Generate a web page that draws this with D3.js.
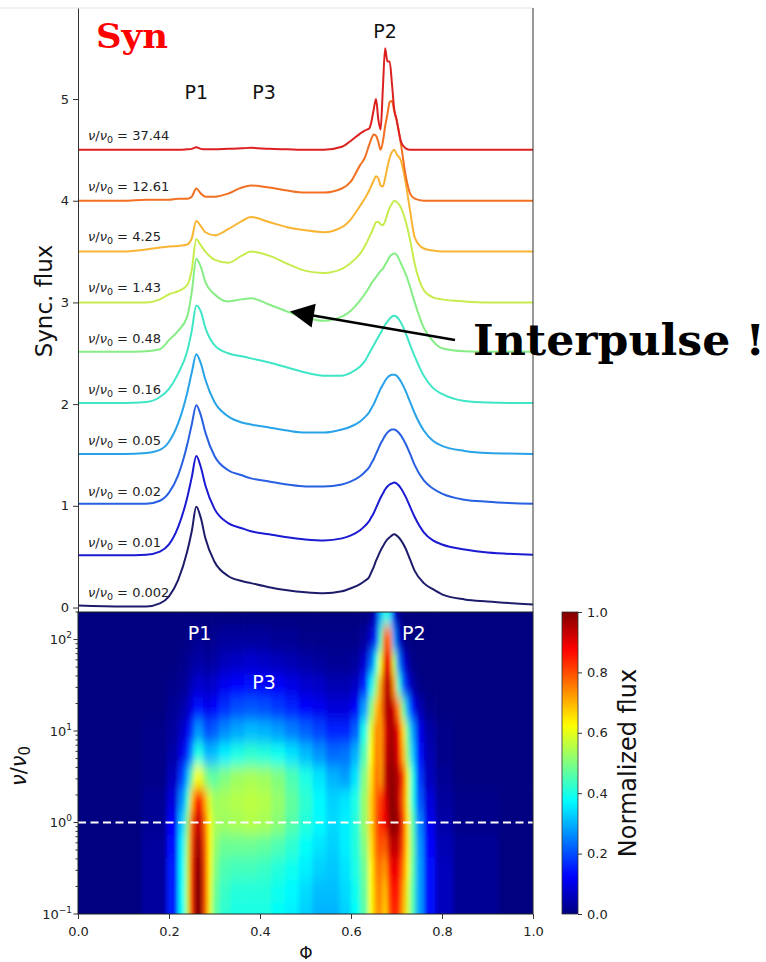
<!DOCTYPE html>
<html><head><meta charset="utf-8">
<script src="https://cdn.jsdelivr.net/npm/d3@7"></script>
<style>
body{margin:0;background:#fff}
svg{display:block}
text{font-family:"DejaVu Sans",sans-serif}
</style>
</head><body>
<svg id="chart" width="766" height="962"></svg>
<script>
// ---------- DATA ----------
const phase = [0,0.10,0.15,0.18,0.20,0.22,0.24,0.25,0.26,0.27,0.28,0.30,0.33,0.36,0.38,0.42,0.46,0.50,0.54,0.58,0.60,0.62,0.63,0.64,0.645,0.65,0.655,0.66,0.665,0.67,0.675,0.68,0.685,0.69,0.695,0.70,0.71,0.72,0.73,0.74,0.76,0.78,0.80,0.85,0.90,1.00];

const nuLabels = ["0.002","0.01","0.02","0.05","0.16","0.48","1.43","4.25","12.61","37.44"];
const curveOffsets = [0,0.5,1.0,1.5,2.0,2.5,3.0,3.5,4.0,4.5];
const lineColors = ["#1c1c6a","#1a1ad2","#2860e2","#28a2e8","#3ee6c6","#86ee84","#c6ec4e","#f8b432","#f27022","#dc2020"];

const flux0002 = [0.02,0.01,0.01,0.04,0.11,0.27,0.55,0.75,0.99,0.88, 0.68,0.45,0.31,0.26,0.24,0.20,0.17,0.15,0.14,0.16, 0.19,0.23,0.26,0.30,0.35,0.40,0.46,0.51,0.56,0.60, 0.64,0.67,0.69,0.71,0.72,0.71,0.66,0.58,0.47,0.36, 0.24,0.18,0.13,0.08,0.06,0.03];
const flux001 = [0.015,0.015,0.02,0.05,0.12,0.29,0.58,0.78,0.99,0.88, 0.70,0.47,0.33,0.28,0.25,0.22,0.19,0.17,0.16,0.18, 0.21,0.26,0.30,0.35,0.39,0.43,0.48,0.53,0.58,0.62, 0.66,0.69,0.71,0.72,0.73,0.72,0.67,0.59,0.49,0.39, 0.24,0.16,0.12,0.07,0.04,0.02];
const flux002 = [0.02,0.02,0.02,0.05,0.13,0.30,0.60,0.80,0.99,0.89, 0.72,0.49,0.35,0.30,0.27,0.24,0.21,0.19,0.19,0.21, 0.24,0.29,0.33,0.38,0.42,0.46,0.51,0.56,0.61,0.65, 0.69,0.72,0.74,0.75,0.75,0.74,0.69,0.61,0.51,0.40, 0.25,0.17,0.12,0.06,0.04,0.02];
const flux005 = [0.01,0.01,0.02,0.05,0.13,0.31,0.61,0.81,0.99,0.90, 0.74,0.52,0.38,0.32,0.30,0.27,0.24,0.22,0.22,0.25, 0.28,0.33,0.37,0.42,0.46,0.50,0.55,0.60,0.65,0.69, 0.73,0.76,0.78,0.79,0.79,0.78,0.72,0.63,0.52,0.41, 0.24,0.14,0.09,0.04,0.02,0.01];
const flux016 = [0.01,0.01,0.02,0.07,0.15,0.30,0.52,0.72,0.97,0.91, 0.75,0.58,0.50,0.47,0.45,0.41,0.36,0.31,0.28,0.28, 0.31,0.37,0.42,0.50,0.54,0.58,0.62,0.66,0.70,0.74, 0.78,0.81,0.84,0.86,0.87,0.86,0.80,0.70,0.58,0.47, 0.28,0.16,0.10,0.03,0.015,0.01];
const flux048 = [0.015,0.015,0.02,0.04,0.13,0.22,0.36,0.60,0.93,0.85, 0.70,0.58,0.51,0.53,0.54,0.48,0.41,0.35,0.32,0.36, 0.42,0.52,0.58,0.65,0.69,0.72,0.75,0.78,0.81,0.83, 0.87,0.91,0.95,0.97,0.98,0.97,0.88,0.78,0.65,0.50, 0.25,0.12,0.05,0.02,0.015,0.015];
const flux143 = [0,0,0,0.03,0.08,0.11,0.17,0.32,0.62,0.56, 0.50,0.42,0.39,0.46,0.50,0.46,0.38,0.31,0.29,0.33, 0.39,0.48,0.55,0.64,0.69,0.74,0.79,0.79,0.77,0.76, 0.80,0.87,0.93,0.97,1.0,0.99,0.93,0.80,0.61,0.38, 0.12,0.05,0.03,0.01,0,0];
const flux425 = [0,0,0.02,0.04,0.05,0.055,0.07,0.13,0.30,0.25, 0.19,0.16,0.22,0.30,0.34,0.29,0.24,0.21,0.19,0.24, 0.32,0.45,0.52,0.60,0.65,0.70,0.74,0.72,0.65,0.64, 0.72,0.83,0.92,0.98,1.0,0.96,0.89,0.68,0.40,0.14, 0.03,0.01,0,0,0,0];
const flux1261 = [0,0,0.01,0.01,0.01,0.02,0.02,0.04,0.12,0.07, 0.04,0.04,0.07,0.13,0.15,0.13,0.10,0.08,0.08,0.12, 0.19,0.35,0.42,0.55,0.61,0.65,0.64,0.58,0.50,0.58, 0.73,0.85,0.97,0.98,0.88,0.80,0.55,0.25,0.07,0.02, 0,0,0,0,0,0];
const flux3744 = [0,0,0,0,0,0,0.005,0.01,0.025,0.01, 0.005,0.005,0.01,0.015,0.02,0.01,0.005,0,0,0.03, 0.09,0.16,0.19,0.21,0.28,0.40,0.50,0.30,0.20,0.60, 1.0,0.87,0.87,0.65,0.40,0.30,0.08,0.015,0,0, 0,0,0,0,0,0];

const topYTicks = [0,1,2,3,4,5];
const phaseTicks = [0,0.2,0.4,0.6,0.8,1.0];
const nuMajorTicks = [0.1,1,10,100];
const nuTickExp = ["\u22121","0","1","2"];
const cbTicks = [0,0.2,0.4,0.6,0.8,1.0];

// heatmap grid (normalized flux), columns = phase, rows = log10(nu/nu0)
const hmPhase = [0,0.10,0.18,0.21,0.23,0.24,0.25,0.26,0.27,0.28, 0.29,0.30,0.32,0.35,0.38,0.41,0.44,0.47,0.50,0.53, 0.56,0.59,0.61,0.63,0.645,0.655,0.665,0.675,0.685,0.695, 0.705,0.715,0.725,0.735,0.75,0.77,0.80,0.85,1.0];
const hmLogNu = [-1.0,-0.75,-0.5,-0.25,0,0.25,0.5,0.75,1.0,1.25,1.5,1.75,2.0,2.3];
const hmNuM100 = [0,0,0.03,0.15,0.38,0.55,0.82,1.0,0.98,0.78, 0.60,0.47,0.42,0.40,0.40,0.40,0.38,0.36,0.33,0.30, 0.30,0.33,0.38,0.46,0.62,0.72,0.74,0.66,0.80,0.85, 0.82,0.70,0.58,0.45,0.28,0.14,0.06,0.02,0];
const hmNuM075 = [0,0,0.03,0.15,0.38,0.56,0.83,1.0,0.98,0.79, 0.61,0.48,0.43,0.41,0.41,0.41,0.39,0.37,0.34,0.31, 0.31,0.34,0.39,0.47,0.62,0.73,0.75,0.68,0.82,0.87, 0.84,0.72,0.59,0.45,0.28,0.14,0.06,0.02,0];
const hmNuM050 = [0,0,0.03,0.15,0.37,0.55,0.82,0.99,0.97,0.79, 0.62,0.50,0.45,0.44,0.44,0.43,0.41,0.39,0.36,0.33, 0.32,0.35,0.40,0.48,0.63,0.75,0.76,0.72,0.86,0.90, 0.87,0.76,0.62,0.46,0.28,0.14,0.06,0.02,0];
const hmNuM025 = [0,0,0.03,0.14,0.36,0.54,0.80,0.97,0.95,0.78, 0.62,0.52,0.48,0.48,0.48,0.47,0.45,0.42,0.38,0.35, 0.33,0.36,0.41,0.50,0.65,0.77,0.80,0.78,0.92,0.95, 0.92,0.80,0.64,0.47,0.27,0.13,0.05,0.02,0];
const hmNu000 = [0,0,0.02,0.12,0.32,0.50,0.78,0.93,0.92,0.76, 0.62,0.54,0.53,0.54,0.55,0.54,0.51,0.46,0.41,0.37, 0.34,0.36,0.41,0.52,0.67,0.78,0.84,0.88,0.97,1.0, 0.95,0.82,0.64,0.45,0.25,0.11,0.04,0.01,0];
const hmNu025 = [0,0,0.02,0.09,0.26,0.42,0.68,0.85,0.85,0.70, 0.58,0.53,0.54,0.55,0.56,0.55,0.52,0.47,0.42,0.37, 0.33,0.35,0.40,0.52,0.67,0.78,0.82,0.90,0.98,0.99, 0.92,0.78,0.60,0.40,0.21,0.09,0.03,0.01,0];
const hmNu050 = [0,0,0.01,0.06,0.18,0.30,0.48,0.62,0.60,0.52, 0.47,0.47,0.50,0.53,0.54,0.53,0.50,0.45,0.40,0.35, 0.30,0.28,0.35,0.50,0.65,0.78,0.72,0.93,0.98,0.98, 0.93,0.82,0.60,0.40,0.18,0.06,0.02,0,0];
const hmNu075 = [0,0,0.01,0.04,0.10,0.17,0.28,0.40,0.40,0.32, 0.30,0.32,0.36,0.40,0.42,0.41,0.39,0.35,0.31,0.27, 0.23,0.24,0.30,0.45,0.62,0.76,0.72,0.91,0.97,0.96, 0.88,0.70,0.50,0.32,0.14,0.05,0.01,0,0];
const hmNu100 = [0,0,0.01,0.03,0.07,0.11,0.18,0.27,0.27,0.21, 0.20,0.22,0.26,0.29,0.31,0.30,0.28,0.25,0.22,0.19, 0.16,0.16,0.22,0.40,0.60,0.75,0.72,0.90,0.96,0.95, 0.87,0.66,0.46,0.28,0.11,0.04,0.01,0,0];
const hmNu125 = [0,0,0,0.02,0.04,0.06,0.10,0.14,0.14,0.11, 0.11,0.13,0.17,0.20,0.21,0.20,0.18,0.16,0.13,0.11, 0.09,0.09,0.12,0.28,0.50,0.68,0.74,0.93,0.97,0.90, 0.72,0.48,0.28,0.14,0.05,0.01,0,0,0];
const hmNu150 = [0,0,0,0.01,0.02,0.03,0.06,0.08,0.08,0.07, 0.07,0.08,0.11,0.13,0.14,0.13,0.12,0.10,0.08,0.07, 0.05,0.05,0.07,0.16,0.36,0.52,0.72,0.93,0.95,0.72, 0.42,0.22,0.10,0.04,0.01,0,0,0,0];
const hmNu175 = [0,0,0,0,0.01,0.02,0.03,0.04,0.04,0.03, 0.03,0.04,0.06,0.07,0.08,0.07,0.06,0.05,0.04,0.03, 0.02,0.02,0.03,0.08,0.22,0.40,0.62,0.90,0.88,0.55, 0.25,0.10,0.04,0.01,0,0,0,0,0];
const hmNu200 = [0,0,0,0,0,0.01,0.01,0.02,0.02,0.01, 0.01,0.02,0.03,0.03,0.03,0.03,0.02,0.02,0.01,0.01, 0.01,0.01,0.01,0.03,0.08,0.18,0.45,0.80,0.75,0.28, 0.08,0.02,0,0,0,0,0,0,0];
const hmNu230 = [0,0,0,0,0,0,0,0,0,0, 0,0,0,0,0,0,0,0,0,0, 0,0,0,0,0.02,0.08,0.30,0.40,0.35,0.10, 0.02,0,0,0,0,0,0,0,0];

// ---------- BUILD ----------
const fluxSeries = [flux0002,flux001,flux002,flux005,flux016,flux048,flux143,flux425,flux1261,flux3744];
const hmRows = [hmNuM100,hmNuM075,hmNuM050,hmNuM025,hmNu000,hmNu025,hmNu050,hmNu075,hmNu100,hmNu125,hmNu150,hmNu175,hmNu200,hmNu230];

function jet(t){
  t = Math.max(0, Math.min(1, t));
  const c = v => Math.round(255*Math.max(0, Math.min(1, v)));
  return `rgb(${c(1.5-Math.abs(4*t-3))},${c(1.5-Math.abs(4*t-2))},${c(1.5-Math.abs(4*t-1))})`;
}

const svg = d3.select("#chart");
const L = 78, R = 533, T = 8, MID = 612, B = 914;
const x = d3.scaleLinear().domain([0,1]).range([L,R]);
const yTop = d3.scaleLinear().domain([-0.044,5.895]).range([MID,T]);
const yBot = d3.scaleLog().domain([0.1,200]).range([B,MID]);
const cbY = d3.scaleLinear().domain([0,1]).range([B,MID]);

const defs = svg.append("defs");
defs.append("clipPath").attr("id","hmclip").append("rect")
  .attr("x",L).attr("y",MID).attr("width",R-L).attr("height",B-MID);
const flt = defs.append("filter").attr("id","soft")
  .attr("x","-5%").attr("y","-5%").attr("width","110%").attr("height","110%");
flt.append("feGaussianBlur").attr("stdDeviation","2.2 7").attr("edgeMode","duplicate");

// light top border line
svg.append("line").attr("x1",0).attr("x2",R).attr("y1",T).attr("y2",T)
  .attr("stroke","#e2e2e2").attr("stroke-width",1);

// ---- top panel curves ----
const line = d3.line().x(d=>x(d[0])).y(d=>yTop(d[1])).curve(d3.curveMonotoneX);
fluxSeries.forEach((s,i)=>{
  const pts = phase.map((p,k)=>[p, s[k] + curveOffsets[i]]);
  svg.append("path").attr("d", line(pts)).attr("fill","none")
    .attr("stroke", lineColors[i]).attr("stroke-width",2).attr("stroke-linejoin","round");
});

// curve labels
nuLabels.forEach((lab,i)=>{
  const t = svg.append("text").attr("x", x(0.022)).attr("y", yTop(curveOffsets[i]+0.1))
    .attr("font-size",13).attr("fill","#222").style("white-space","pre");
  t.append("tspan").attr("font-style","italic").text("\u03bd");
  t.append("tspan").text("/");
  t.append("tspan").attr("font-style","italic").text("\u03bd");
  t.append("tspan").attr("font-size",9.5).attr("dy",3).text("0");
  t.append("tspan").attr("dy",-3).text(" = " + lab);
});

// top axis
const gTopAx = svg.append("g").attr("transform",`translate(${L},0)`)
  .call(d3.axisLeft(yTop).tickValues(topYTicks).tickFormat(d3.format("d")).tickSize(5).tickSizeOuter(0).tickPadding(4));
gTopAx.selectAll("text").attr("font-size",13).attr("fill","#222");
gTopAx.selectAll("line,path").attr("stroke","#333");
svg.append("line").attr("x1",R).attr("x2",R).attr("y1",T).attr("y2",MID).attr("stroke","#333");

svg.append("text").attr("transform",`translate(51.5,301) rotate(-90)`).attr("text-anchor","middle")
  .attr("font-size",23).attr("fill","#111").text("Sync. flux");

// peak labels
[["P1",0.260,5.0],["P3",0.409,5.0],["P2",0.675,5.6]].forEach(d=>{
  svg.append("text").attr("x",x(d[1])).attr("y",yTop(d[2])).attr("text-anchor","middle")
    .attr("font-size",19).attr("fill","#111").text(d[0]);
});

svg.append("text").attr("x",96).attr("y",48)
  .style("font-family","'DejaVu Serif', serif").style("font-weight","bold")
  .attr("font-size",33).attr("fill","#ff0000")
  .attr("textLength",72).attr("lengthAdjust","spacingAndGlyphs").text("Syn");

// ---- heatmap ----
const gClip = svg.append("g").attr("clip-path","url(#hmclip)");
const gHm = gClip.append("g").attr("filter","url(#soft)");
const nc = hmPhase.length, nr = hmLogNu.length;
hmRows.forEach((row,i)=>{
  const lo = i===0 ? -1.4 : (hmLogNu[i-1]+hmLogNu[i])/2;
  const hi = i===nr-1 ? 2.7 : (hmLogNu[i]+hmLogNu[i+1])/2;
  row.forEach((v,j)=>{
    const a = j===0 ? -0.05 : (hmPhase[j-1]+hmPhase[j])/2;
    const b = j===nc-1 ? 1.05 : (hmPhase[j]+hmPhase[j+1])/2;
    const y0 = yBot(Math.pow(10,hi)), y1 = yBot(Math.pow(10,lo));
    gHm.append("rect").attr("x",x(a)).attr("y",y0)
      .attr("width",x(b)-x(a)+0.6).attr("height",y1-y0+0.6)
      .attr("fill",jet(v));
  });
});

// dashed line at nu/nu0 = 1
svg.append("line").attr("x1",L).attr("x2",R).attr("y1",yBot(1)).attr("y2",yBot(1))
  .attr("stroke","#fff").attr("stroke-width",2).attr("stroke-dasharray","8,4.5");

// heatmap labels
[["P1",0.267,100],["P3",0.409,29],["P2",0.738,100]].forEach(d=>{
  svg.append("text").attr("x",x(d[1])).attr("y",yBot(d[2])).attr("text-anchor","middle")
    .attr("font-size",19).attr("fill","#fff").text(d[0]);
});

svg.append("rect").attr("x",L).attr("y",MID).attr("width",R-L).attr("height",B-MID)
  .attr("fill","none").attr("stroke","#222").attr("stroke-width",1);

// x axis
const gx = svg.append("g").attr("transform",`translate(0,${B})`)
  .call(d3.axisBottom(x).tickValues(phaseTicks).tickFormat(d3.format(".1f")).tickSize(5).tickSizeOuter(0).tickPadding(8));
gx.select(".domain").remove();
gx.selectAll("text").attr("font-size",13).attr("fill","#222");
gx.selectAll("line").attr("stroke","#333");
svg.append("text").attr("x",306).attr("y",959).attr("text-anchor","middle")
  .attr("font-size",17).attr("fill","#111").text("\u03a6");

// log y axis
const minor = [];
[0.1,1,10,100].forEach(dec=>{ for(let k=2;k<=9;k++){ const v=dec*k; if(v<=200) minor.push(v);} });
svg.selectAll(".mnt").data(minor).enter().append("line")
  .attr("x1",L-2.5).attr("x2",L).attr("y1",d=>yBot(d)).attr("y2",d=>yBot(d)).attr("stroke","#333");
nuMajorTicks.forEach((v,i)=>{
  svg.append("line").attr("x1",L-4.5).attr("x2",L).attr("y1",yBot(v)).attr("y2",yBot(v)).attr("stroke","#333");
  const t = svg.append("text").attr("x",L-6).attr("y",yBot(v)+4.5).attr("text-anchor","end")
    .attr("font-size",13).attr("fill","#222");
  t.append("tspan").text("10");
  t.append("tspan").attr("font-size",9).attr("dy",-6).text(nuTickExp[i]);
});
const yl = svg.append("text").attr("transform",`translate(26,766) rotate(-90)`).attr("text-anchor","middle")
  .attr("font-size",21).attr("fill","#111");
yl.append("tspan").attr("font-style","italic").text("\u03bd");
yl.append("tspan").text("/");
yl.append("tspan").attr("font-style","italic").text("\u03bd");
yl.append("tspan").attr("font-size",15).attr("dy",4).text("0");

// ---- colorbar ----
const grad = defs.append("linearGradient").attr("id","jetgrad")
  .attr("x1",0).attr("y1",1).attr("x2",0).attr("y2",0);
d3.range(0,1.0001,0.02).forEach(t=>{
  grad.append("stop").attr("offset",t).attr("stop-color",jet(t));
});
const cbX = 562, cbW = 16;
svg.append("rect").attr("x",cbX).attr("y",MID).attr("width",cbW).attr("height",B-MID)
  .attr("fill","url(#jetgrad)").attr("stroke","#333").attr("stroke-width",0.8);
const gcb = svg.append("g").attr("transform",`translate(${cbX+cbW},0)`)
  .call(d3.axisRight(cbY).tickValues(cbTicks).tickFormat(d3.format(".1f")).tickSize(4).tickSizeOuter(0).tickPadding(5));
gcb.select(".domain").remove();
gcb.selectAll("text").attr("font-size",13).attr("fill","#222");
gcb.selectAll("line").attr("stroke","#333");
svg.append("text").attr("transform",`translate(636,763) rotate(-90)`).attr("text-anchor","middle")
  .attr("font-size",24).attr("fill","#111").text("Normalized flux");

// ---- annotation ----
const tip = [290,311.5], tail = [455,340];
const dx = tip[0]-tail[0], dy = tip[1]-tail[1], len = Math.hypot(dx,dy);
const ux = dx/len, uy = dy/len, hl = 24, hw = 12;
const bx = tip[0]-hl*ux, by = tip[1]-hl*uy;
svg.append("line").attr("x1",tail[0]).attr("y1",tail[1]).attr("x2",bx+2*ux).attr("y2",by+2*uy)
  .attr("stroke","#000").attr("stroke-width",2.6);
svg.append("path").attr("d",`M${tip[0]},${tip[1]}L${bx-uy*hw},${by+ux*hw}L${bx+uy*hw},${by-ux*hw}Z`).attr("fill","#000");
svg.append("text").attr("x",473).attr("y",355)
  .style("font-family","'DejaVu Serif', serif").style("font-weight","bold")
  .attr("font-size",42).attr("fill","#000")
  .attr("textLength",292).attr("lengthAdjust","spacingAndGlyphs").text("Interpulse !");
</script>
</body></html>
